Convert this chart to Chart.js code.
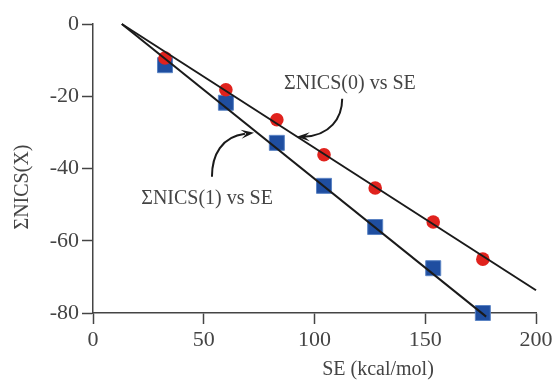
<!DOCTYPE html>
<html>
<head>
<meta charset="utf-8">
<script src="https://cdn.jsdelivr.net/npm/chart.js@4.4.1/dist/chart.umd.min.js"></script>
<style>
    html, body { margin: 0; padding: 0; background: #fff; }
</style>
</head>
<body>
<canvas id="chart" width="556" height="381"></canvas>
<script>
// values
const seValues = [32.5, 60, 83, 104.3, 127.4, 153.6, 176];
const nics0 = [-9.4, -18.2, -26.5, -36.2, -45.4, -54.8, -65.1];
const nics1 = [-11.4, -21.8, -32.9, -44.8, -56.2, -67.6, -80];

// fitted lines (end points as drawn)
const fit0X = [13, 200];
const fit0Y = [0, -73.7];
const fit1X = [13, 177.5];
const fit1Y = [0, -81];

const xTicks = [0, 50, 100, 150, 200];
const yTicks = [-80, -60, -40, -20, 0];

const serif = "'Liberation Serif', 'Times New Roman', serif";
const ink = '#444444';

const toPoints = (xs, ys) => xs.map((x, i) => ({ x: x, y: ys[i] }));

// labels + curved arrows, placed in data units
const annotations = {
    id: 'annotations',
    afterDraw(chart) {
        const ctx = chart.ctx;
        const xs = chart.scales.x;
        const ys = chart.scales.y;
        const P = (x, y) => [xs.getPixelForValue(x), ys.getPixelForValue(y)];

        ctx.save();
        ctx.fillStyle = ink;
        ctx.font = `20px ${serif}`;
        ctx.textAlign = 'center';
        ctx.textBaseline = 'middle';

        let p = P(116, -16.5);
        ctx.fillText('ΣNICS(0) vs SE', p[0], p[1]);
        p = P(51.5, -48.4);
        ctx.fillText('ΣNICS(1) vs SE', p[0], p[1]);

        // axis titles
        ctx.fillText('SE (kcal/mol)', 378, 370);
        ctx.save();
        ctx.translate(23, 187);
        ctx.rotate(-Math.PI / 2);
        ctx.fillText('ΣNICS(X)', 0, 0);
        ctx.restore();

        const arrow = (pts, tip) => {
            const a = pts.map(q => P(q[0], q[1]));
            const t = P(tip[0], tip[1]);
            ctx.strokeStyle = '#1a1a1a';
            ctx.lineWidth = 2;
            ctx.beginPath();
            ctx.moveTo(a[0][0], a[0][1]);
            ctx.bezierCurveTo(a[1][0], a[1][1], a[2][0], a[2][1], a[3][0], a[3][1]);
            ctx.stroke();
            const ang = Math.atan2(t[1] - a[3][1], t[0] - a[3][0]);
            const len = 13, half = 4.5;
            ctx.fillStyle = '#1a1a1a';
            ctx.beginPath();
            ctx.moveTo(t[0], t[1]);
            ctx.lineTo(t[0] - len * Math.cos(ang) + half * Math.sin(ang), t[1] - len * Math.sin(ang) - half * Math.cos(ang));
            ctx.lineTo(t[0] - 0.6 * len * Math.cos(ang), t[1] - 0.6 * len * Math.sin(ang));
            ctx.lineTo(t[0] - len * Math.cos(ang) - half * Math.sin(ang), t[1] - len * Math.sin(ang) + half * Math.cos(ang));
            ctx.closePath();
            ctx.fill();
        };

        arrow([[112.5, -20.7], [112.5, -26], [107, -31], [95, -31.2]], [92, -31.2]);
        arrow([[53.7, -42.3], [53.7, -36.2], [58.2, -31.2], [68.6, -30.4]], [72.7, -30.1]);
        ctx.restore();
    }
};

const axisOpts = (min, max, step, tickList) => ({
    type: 'linear',
    min: min,
    max: max,
    afterBuildTicks: s => { s.ticks = tickList.map(v => ({ value: v })); },
    ticks: {
        stepSize: step,
        color: ink,
        font: { family: serif, size: 22 },
        padding: 3
    },
    grid: {
        display: true,
        drawOnChartArea: false,
        drawTicks: true,
        tickLength: 11,
        tickWidth: 1.5,
        tickColor: ink,
        color: ink
    },
    border: { display: true, color: ink, width: 1.5 },
    title: { display: false }
});

const xAxis = axisOpts(0, 200, 50, xTicks);
xAxis.afterFit = s => { s.height = 68; };
const yAxis = axisOpts(-80, 0, 20, yTicks);
yAxis.afterFit = s => { s.width = 93; };

new Chart(document.getElementById('chart'), {
    type: 'scatter',
    data: {
        datasets: [
            {
                label: 'fit ΣNICS(0)',
                type: 'line',
                data: toPoints(fit0X, fit0Y),
                borderColor: '#1a1a1a',
                borderWidth: 2,
                pointRadius: 0,
                fill: false,
                clip: false,
                order: 0
            },
            {
                label: 'fit ΣNICS(1)',
                type: 'line',
                data: toPoints(fit1X, fit1Y),
                borderColor: '#1a1a1a',
                borderWidth: 2,
                pointRadius: 0,
                fill: false,
                clip: false,
                order: 0
            },
            {
                label: 'ΣNICS(0)',
                data: toPoints(seValues, nics0),
                pointStyle: 'circle',
                pointRadius: 6.8,
                backgroundColor: '#e0221d',
                borderColor: '#e0221d',
                borderWidth: 0,
                clip: false,
                order: 1
            },
            {
                label: 'ΣNICS(1)',
                data: toPoints(seValues, nics1),
                pointStyle: 'rect',
                pointRadius: 10.6,
                backgroundColor: '#1f4ea0',
                borderColor: '#5b84c4',
                borderWidth: 1,
                clip: false,
                order: 2
            }
        ]
    },
    options: {
        responsive: false,
        animation: false,
        devicePixelRatio: 1,
        layout: { padding: { left: 0, top: 24, right: 20, bottom: 0 } },
        plugins: {
            legend: { display: false },
            tooltip: { enabled: false }
        },
        scales: { x: xAxis, y: yAxis }
    },
    plugins: [annotations]
});
</script>
</body>
</html>
